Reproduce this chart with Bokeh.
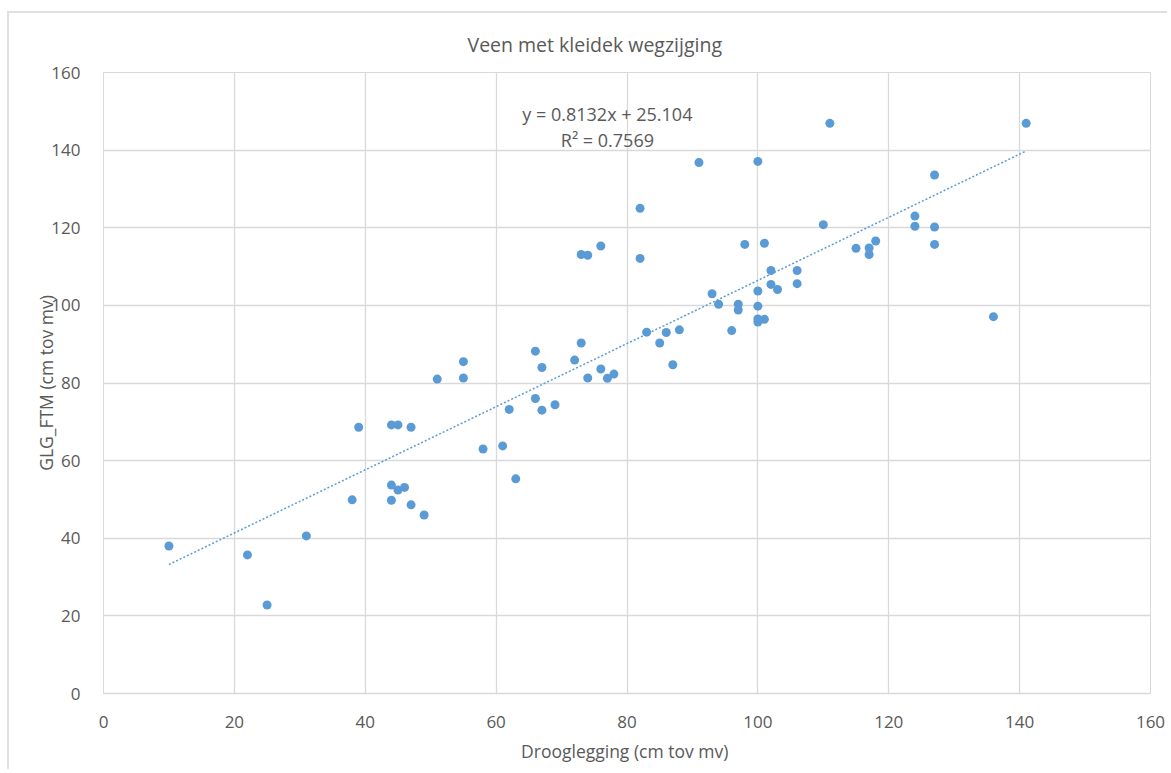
import numpy as np
from bokeh.plotting import figure
from bokeh.models import Label, Range1d, FixedTicker
from bokeh.embed import file_html
from bokeh.resources import INLINE

# Data
drooglegging = [10, 22, 25, 31, 38, 39, 44, 45, 47, 44, 45, 46, 44, 47, 49, 51, 55, 55,
                58, 61, 62, 63, 66, 67, 66, 67, 69, 72, 73, 73, 74, 76, 74, 76, 77, 78,
                82, 82, 83, 85, 86, 88, 87, 91, 93, 94, 96, 97, 97, 98, 100, 100, 100,
                100, 100, 101, 101, 102, 102, 103, 106, 106, 110, 111, 115, 117, 117,
                118, 124, 124, 127, 127, 127, 136, 141]
glg_ftm = [38.0, 35.7, 22.8, 40.6, 49.9, 68.6, 69.2, 69.2, 68.6, 53.7, 52.4, 53.1, 49.8,
           48.6, 46.0, 81.0, 85.5, 81.3, 63.0, 63.8, 73.2, 55.3, 88.2, 84.0, 76.0, 73.0,
           74.4, 85.9, 90.3, 113.1, 112.9, 115.3, 81.3, 83.6, 81.2, 82.3, 112.1, 125.0,
           93.1, 90.3, 93.0, 93.7, 84.7, 136.8, 103.0, 100.3, 93.5, 100.3, 98.8, 115.7,
           137.1, 103.7, 99.8, 96.5, 95.7, 96.4, 116.0, 109.0, 105.4, 104.1, 109.0,
           105.6, 120.8, 146.9, 114.7, 114.8, 113.1, 116.6, 123.0, 120.4, 133.6, 120.2,
           115.7, 97.1, 146.9]

slope = 0.8132
intercept = 25.104
r_squared = 0.7569
ticks = [0, 20, 40, 60, 80, 100, 120, 140, 160]

TXT = "#595959"
GRID = "#d9d9d9"
BLUE = "#5B9BD5"
FONT = "Open Sans"

p = figure(width=1160, height=758, output_backend="svg", toolbar_location=None,
           x_range=Range1d(0, 160), y_range=Range1d(0, 160),
           min_border_left=94, min_border_right=19, min_border_top=59, min_border_bottom=78,
           title="Veen met kleidek wegzijging")
p.styles = {"margin-left": "7px", "margin-top": "11px",
            "border-left": "2px solid #e0e0e0", "border-top": "2px solid #e0e0e0"}

p.title.align = "left"
p.title.offset = 364
p.title.text_font = FONT
p.title.text_font_size = "19.5px"
p.title.text_font_style = "normal"
p.title.text_color = TXT
p.title.standoff = 30

p.outline_line_color = GRID
for ax in (p.xaxis[0], p.yaxis[0]):
    ax.ticker = FixedTicker(ticks=ticks)
    ax.major_tick_line_color = None
    ax.minor_tick_line_color = None
    ax.major_label_text_font = FONT
    ax.major_label_text_font_size = "17px"
    ax.major_label_text_color = TXT
    ax.axis_label_text_font = FONT
    ax.axis_label_text_font_size = "17.5px"
    ax.axis_label_text_color = TXT
    ax.axis_label_text_font_style = "normal"
p.xaxis.axis_line_color = GRID
p.xaxis.axis_line_width = 1.5
p.yaxis.axis_line_color = None
p.xaxis.axis_label = "Drooglegging (cm tov  mv)"
p.yaxis.axis_label = "GLG_FTM (cm tov mv)"
p.xaxis.major_label_standoff = 16
p.yaxis.major_label_standoff = 17
p.xaxis.axis_label_standoff = 8
p.yaxis.axis_label_standoff = -10

p.xgrid.ticker = FixedTicker(ticks=ticks)
p.ygrid.ticker = FixedTicker(ticks=ticks)
p.xgrid.grid_line_color = GRID
p.ygrid.grid_line_color = GRID
p.xgrid.grid_line_width = 1.3
p.ygrid.grid_line_width = 1.3

# trend line over the data range
xs = np.array([min(drooglegging), max(drooglegging)], dtype=float)
p.line(xs, slope * xs + intercept, line_color=BLUE, line_width=1.5, line_dash="2 2")

p.scatter(drooglegging, glg_ftm, size=9, fill_color=BLUE, line_color=BLUE, line_width=0)

p.add_layout(Label(x=77, y=149.4, text=f"y = {slope}x + {intercept}", text_align="center",
                   text_baseline="middle", text_font=FONT, text_font_size="18px", text_color=TXT))
p.add_layout(Label(x=77, y=142.6, text=f"R² = {r_squared}", text_align="center",
                   text_baseline="middle", text_font=FONT, text_font_size="18px", text_color=TXT))

open("out.html", "w").write(file_html(p, INLINE))
